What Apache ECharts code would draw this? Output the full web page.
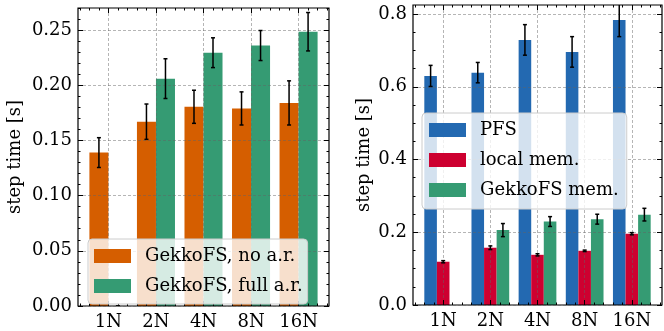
<!DOCTYPE html>
<html><head><meta charset="utf-8">
<script src="https://cdn.jsdelivr.net/npm/echarts@6/dist/echarts.min.js"></script>
<style>html,body{margin:0;padding:0;background:#fff}#c{width:664px;height:331px}</style>
</head><body><div id="c"></div>
<script>
// ---- data ----
const categories = ['1N', '2N', '4N', '8N', '16N'];
const noAr      = [0.139, 0.167, 0.1805, 0.179, 0.184];
const noArErr   = [0.0135, 0.016, 0.015, 0.015, 0.020];
const fullAr    = [0, 0.206, 0.2295, 0.236, 0.2485];
const fullArErr = [0, 0.018, 0.0135, 0.0136, 0.0174];
const pfs       = [0.630, 0.639, 0.729, 0.696, 0.784];
const pfsErr    = [0.029, 0.028, 0.042, 0.042, 0.046];
const localMem  = [0.119, 0.1575, 0.138, 0.149, 0.196];
const localMemErr = [0.003, 0.005, 0.003, 0.002, 0.003];
const gkfsMem   = [null, 0.206, 0.2295, 0.236, 0.2485];
const gkfsMemErr = [null, 0.018, 0.0135, 0.0136, 0.0174];
const leftYTicks  = [0, 0.05, 0.10, 0.15, 0.20, 0.25];
const rightYTicks = [0, 0.2, 0.4, 0.6, 0.8];
const xTicks = [0, 1, 2, 3, 4];

// ---- style/layout ----
const FONT = 'DejaVu Serif';
const FS = 18;
const X_MIN = -0.64, X_MAX = 4.64;
const xMinor = [-0.6,-0.4,-0.2,0.2,0.4,0.6,0.8,1.2,1.4,1.6,1.8,2.2,2.4,2.6,2.8,3.2,3.4,3.6,3.8,4.2,4.4,4.6];
const leftYMinor = [], rightYMinor = [];
for (let i = 1; i <= 27; i++) if (i % 5) leftYMinor.push(+(i * 0.01).toFixed(2));
for (let i = 1; i <= 16; i++) if (i % 4) rightYMinor.push(+(i * 0.05).toFixed(2));

const C = { orange: '#d55e00', green: '#359b73', blue: '#2369b1', red: '#cd0030' };

const gridLine = { show: true, lineStyle: { color: 'rgba(100,100,100,0.6)', type: [3, 2], width: 0.8 } };
const tickStyle = { color: '#000', width: 1 };

function makeAxes(kind, gi, majors, minors, min, max, fmt, gap, name) {
  const isX = kind === 'x';
  const sides = isX ? ['bottom', 'top'] : ['left', 'right'];
  const out = [];
  sides.forEach((side, si) => {
    [true, false].forEach(major => {
      const a = {
        gridIndex: gi, type: 'value', min: min, max: max, position: side, z: 3,
        axisLine: { show: false, onZero: false },
        axisTick: { show: true, inside: true, length: major ? 5 : 2.5, customValues: major ? majors : minors, lineStyle: tickStyle },
        axisLabel: { show: false },
        splitLine: { show: false }
      };
      if (si === 0 && major) {
        a.axisLabel = { show: true, customValues: majors, formatter: fmt, color: '#000', fontFamily: FONT, fontSize: FS, margin: isX ? 7 : 6 };
        a.splitLine = gridLine;
        if (name) {
          a.name = name; a.nameLocation = 'middle'; a.nameGap = gap;
          a.nameTextStyle = { color: '#000', fontFamily: FONT, fontSize: FS };
        }
      }
      out.push(a);
    });
  });
  return out;
}

const xFmt = v => categories[Math.round(v)];
const xAxis = [
  ...makeAxes('x', 0, xTicks, xMinor, X_MIN, X_MAX, xFmt),
  ...makeAxes('x', 1, xTicks, xMinor, X_MIN, X_MAX, xFmt)
];
const yAxis = [
  ...makeAxes('y', 0, leftYTicks, leftYMinor, 0, 0.27, v => v.toFixed(2), 54, 'step time [s]'),
  ...makeAxes('y', 1, rightYTicks, rightYMinor, 0, 0.825, v => v.toFixed(1), 40, 'step time [s]')
];

function barSeries(name, vals, offset, width, color, gi) {
  return {
    type: 'custom', name: name, xAxisIndex: gi * 4, yAxisIndex: gi * 4, z: 2, clip: true,
    itemStyle: { color: color },
    data: vals.map((v, i) => [xTicks[i], v]),
    renderItem: (params, api) => {
      const y = api.value(1);
      if (y == null || isNaN(y)) return null;
      const x = api.value(0);
      const p0 = api.coord([x + offset - width / 2, y]);
      const p1 = api.coord([x + offset + width / 2, 0]);
      return { type: 'rect', shape: { x: p0[0], y: p0[1], width: p1[0] - p0[0], height: p1[1] - p0[1] }, style: { fill: color } };
    }
  };
}
function errSeries(vals, errs, offset, gi) {
  return {
    type: 'custom', xAxisIndex: gi * 4, yAxisIndex: gi * 4, z: 4, clip: true, silent: true,
    data: vals.map((v, i) => [xTicks[i] + offset, v, errs[i]]),
    renderItem: (params, api) => {
      const v = api.value(1), e = api.value(2);
      if (v == null || isNaN(v)) return null;
      const top = api.coord([api.value(0), v + e]);
      const bot = api.coord([api.value(0), v - e]);
      const st = { stroke: '#000', lineWidth: 1.5 };
      return { type: 'group', children: [
        { type: 'line', shape: { x1: top[0], y1: top[1], x2: bot[0], y2: bot[1] }, style: st },
        { type: 'line', shape: { x1: top[0] - 2, y1: top[1], x2: top[0] + 2, y2: top[1] }, style: st },
        { type: 'line', shape: { x1: bot[0] - 2, y1: bot[1], x2: bot[0] + 2, y2: bot[1] }, style: st }
      ]};
    }
  };
}

const W2 = 0.4, W3 = 0.8 / 3;
const series = [
  barSeries('GekkoFS, no a.r.', noAr, -0.2, W2, C.orange, 0),
  barSeries('GekkoFS, full a.r.', fullAr, 0.2, W2, C.green, 0),
  errSeries(noAr, noArErr, -0.2, 0),
  errSeries(fullAr, fullArErr, 0.2, 0),
  barSeries('PFS', pfs, -W3, W3, C.blue, 1),
  barSeries('local mem.', localMem, 0, W3, C.red, 1),
  barSeries('GekkoFS mem.', gkfsMem, W3, W3, C.green, 1),
  errSeries(pfs, pfsErr, -W3, 1),
  errSeries(localMem, localMemErr, 0, 1),
  errSeries(gkfsMem, gkfsMemErr, W3, 1)
];

const legendBase = {
  orient: 'vertical', icon: 'rect', itemWidth: 37, itemHeight: 14, itemGap: 12, selectedMode: false, z: 6,
  backgroundColor: 'rgba(255,255,255,0.8)', borderColor: '#cccccc', borderWidth: 1, borderRadius: 4,
  textStyle: { color: '#000', fontFamily: FONT, fontSize: FS, lineHeight: 14, padding: [0, 0, 0, 9] }
};

const chart = echarts.init(document.getElementById('c'), null, { renderer: 'canvas' });
const option = {
  animation: false,
  backgroundColor: '#fff',
  grid: [
    { left: 78, top: 8, width: 251, height: 298, show: true, borderColor: '#000', borderWidth: 1.2, z: 3, backgroundColor: 'transparent' },
    { left: 413, top: 5, width: 249, height: 300, show: true, borderColor: '#000', borderWidth: 1.2, z: 3, backgroundColor: 'transparent' }
  ],
  xAxis: xAxis,
  yAxis: yAxis,
  legend: [
    Object.assign({}, legendBase, { data: ['GekkoFS, no a.r.', 'GekkoFS, full a.r.'], left: 88, top: 239, padding: [8, 5, 9, 6] }),
    Object.assign({}, legendBase, { data: ['PFS', 'local mem.', 'GekkoFS mem.'], left: 422, top: 113, padding: [8, 8, 10, 7] })
  ],
  series: series
};
chart.setOption(option);
</script></body></html>
